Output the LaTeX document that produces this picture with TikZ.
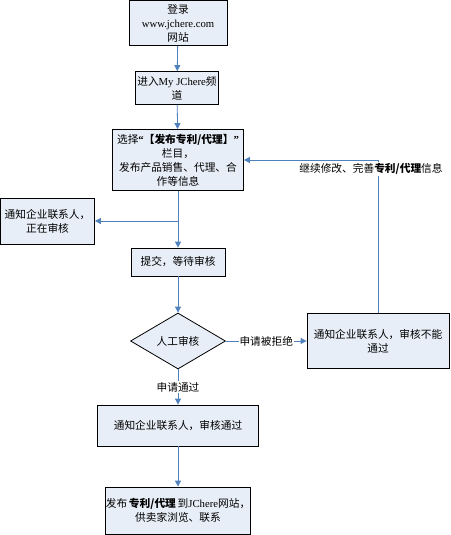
\documentclass[tikz,border=0pt]{standalone}
\usepackage{fontspec}
\setmainfont{Liberation Serif}
\newfontfamily\cjkfont{Noto Sans CJK SC}
\usetikzlibrary{positioning}
\usetikzlibrary{shapes.geometric,arrows.meta}
\definecolor{boxfill}{RGB}{232,238,247}
\definecolor{flowblue}{RGB}{79,129,189}
\newcommand{\lat}[1]{{\rmfamily #1}}

\begin{document}
\begin{tikzpicture}[x=1pt,y=-1pt,
    font=\cjkfont\fontsize{10.7}{14}\selectfont,
    stepbox/.style={rectangle,draw=black,line width=0.8pt,fill=boxfill,align=center,inner sep=0pt},
    checkbox/.style={diamond,draw=black,line width=0.8pt,fill=boxfill,aspect=1.7,inner sep=0pt},
    flow/.style={draw=flowblue,line width=0.8pt,-{Triangle[length=6pt,width=6pt]}},
    flowlabel/.style={fill=white,inner sep=1pt}]
    \useasboundingbox (0,0) rectangle (450,535);
    \node[stepbox,minimum width=98pt,minimum height=45pt] (login) at (178,23) {登录\\\lat{www.jchere.com}\\网站};
    \node[stepbox,minimum width=83pt,minimum height=33pt] (enter) at (177,88) {进入\lat{My JChere}频\\道};
    \node[stepbox,minimum width=131pt,minimum height=61pt] (choose) at (178,160) {选择\textbf{\lat{“}【发布专利/代理】\lat{”}}\\栏目，\\发布产品销售、代理、合\\作等信息};
    \node[stepbox,minimum width=94pt,minimum height=46pt] (notify) at (47.5,221) {通知企业联系人，\\正在审核};
    \node[stepbox,minimum width=94pt,minimum height=28pt] (submit) at (178,262) {提交，等待审核};
    \node[checkbox,minimum width=95pt,minimum height=56pt] (review) at (178,341) {人工审核};
    \node[stepbox,minimum width=142pt,minimum height=55pt] (reject) at (378,341) {通知企业联系人，审核不能\\通过};
    \node[stepbox,minimum width=161pt,minimum height=41pt] (pass) at (178,425.5) {通知企业联系人，审核通过};
    \node[stepbox,minimum width=141pt,minimum height=47pt] (publish) at (178,510.5) {发布\,\textbf{专利/代理}\,到\lat{JChere}网站，\\供卖家浏览、联系};
    %main column
    \draw[flow] (login) -- (enter);
    \draw[flow] (enter) -- (choose);
    \draw[flow] (choose) -- (submit);
    \coordinate (split) at (178,221);
    \draw[flow] (split) -- (notify.east);
    \draw[flow] (submit) -- (review);
    \draw[flow] (review) -- node[flowlabel] {申请被拒绝} (reject);
    \draw[flow] (review) -- node[flowlabel] {申请通过} (pass);
    \draw[flow] (pass) -- (publish);
    %back to the form
    \draw[flow] (reject.north) |- (choose.east);
    \node[flowlabel] (redo) at (371,169) {继续修改、完善\textbf{专利/代理}信息};
\end{tikzpicture}
\end{document}
